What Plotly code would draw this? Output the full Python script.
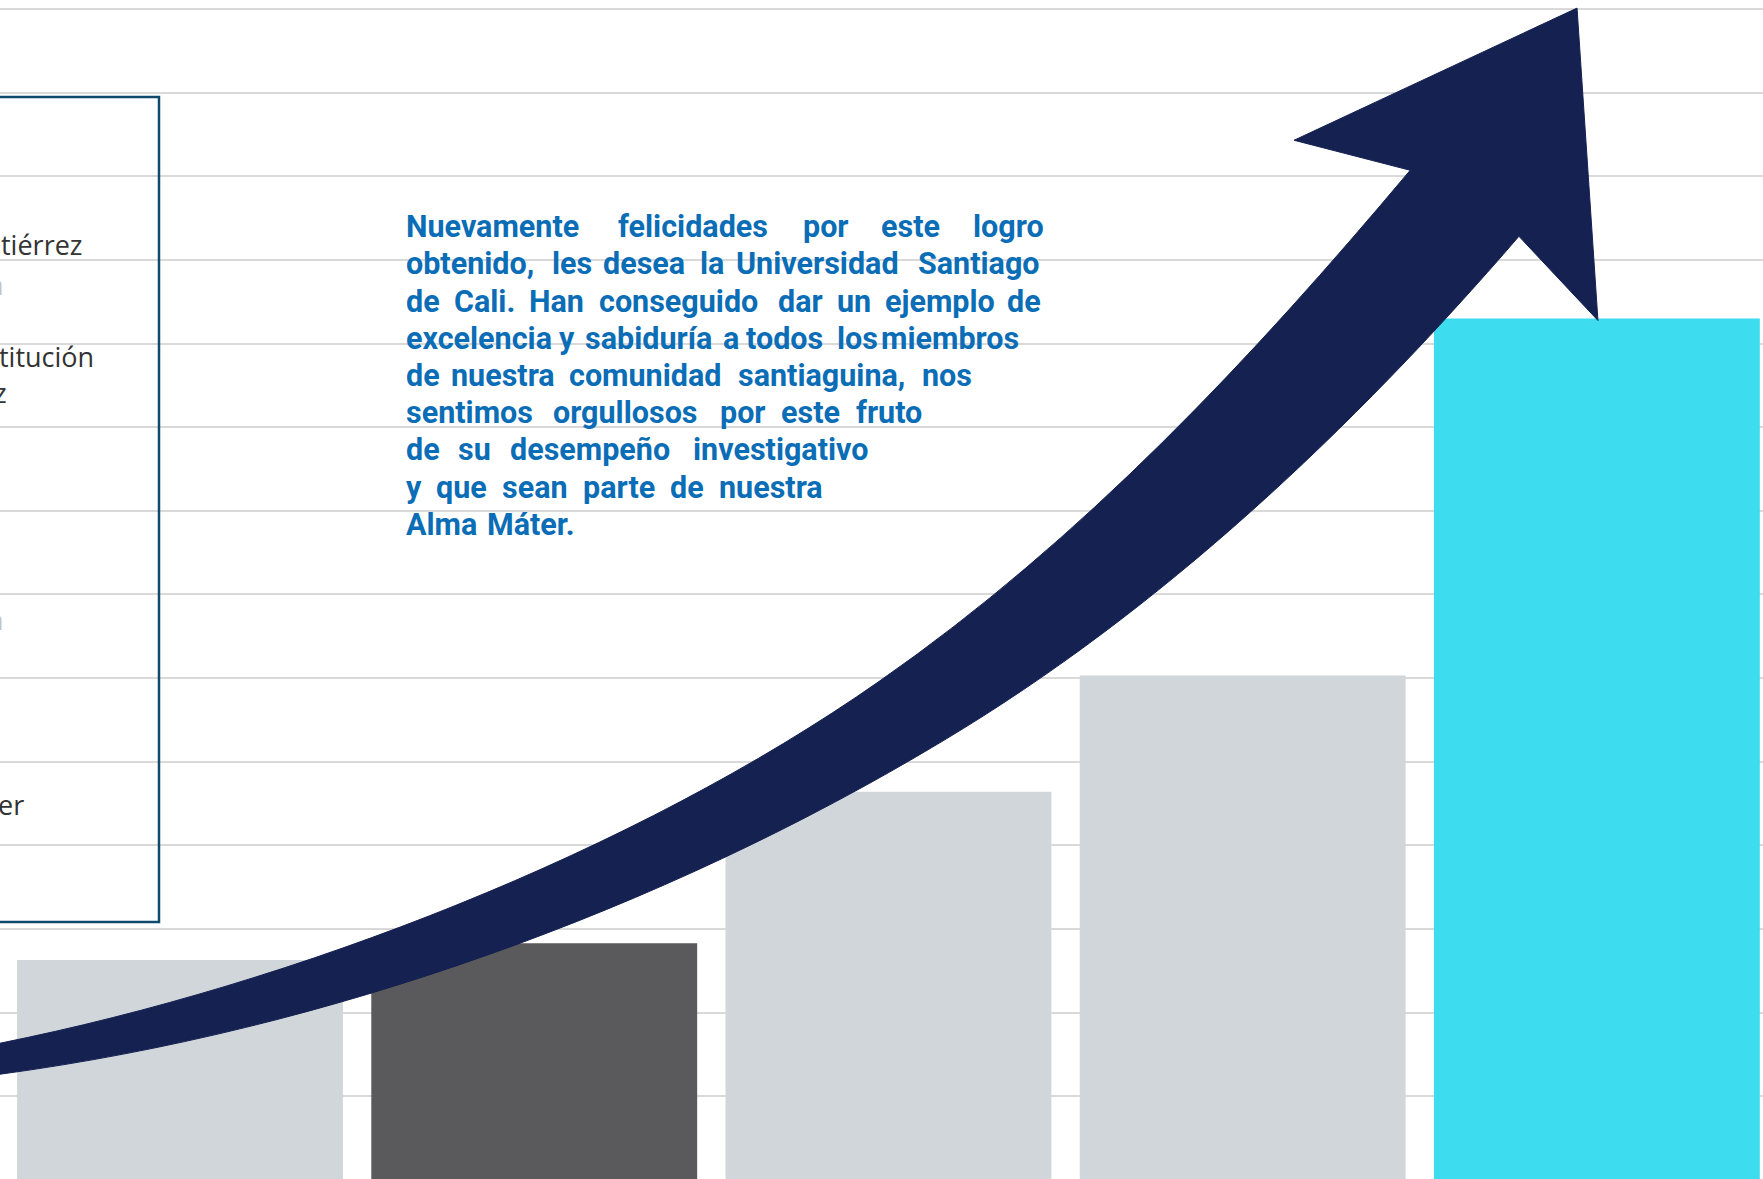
import plotly.graph_objects as go

# ---------------- data ----------------
bar_positions = [0, 1, 2, 3, 4]
bar_values = [2.63, 2.83, 4.64, 6.03, 10.30]
bar_colors = ["#d1d6da", "#5a5a5c", "#d1d6da", "#d1d6da", "#3ddcee"]

# decorative arrow outline, in axis units (x = category index, y = value)
# each entry: (command, [x, y, x, y, ...])
arrow_path = [
    ("M", [-0.593, 1.562]),
    ("L", [-0.508, 1.634]),
    ("C", [0.322, 2.340, 1.282, 3.908, 1.976, 5.967]),
    ("C", [2.544, 7.643, 3.027, 9.822, 3.473, 12.072]),
    ("L", [3.145, 12.431]),
    ("L", [3.944, 14.011]),
    ("L", [4.003, 10.276]),
    ("L", [3.780, 11.282]),
    ("C", [3.309, 8.972, 2.772, 6.817, 2.154, 5.249]),
    ("C", [1.355, 3.214, 0.415, 1.790, -0.508, 1.263]),
    ("L", [-0.593, 1.203]),
]

text_lines = [
    "Nuevamente felicidades por este logro",
    "obtenido, les desea la Universidad Santiago",
    "de Cali. Han conseguido dar un ejemplo de",
    "excelencia y sabiduría a todos los miembros",
    "de nuestra comunidad santiaguina, nos",
    "sentimos orgullosos por este fruto",
    "de su desempeño investigativo",
    "y que sean parte de nuestra",
    "Alma Máter.",
]
box_texts = ["tiérrez", "n", "titución", "z", "n", "er"]

# ---------------- layout constants ----------------
W, H = 1763, 1179
NAVY = "#142151"
TEXT_BLUE = "#0a6db6"

word_x = [
    [405, 617, 802, 880, 972],
    [405, 551, 602, 699, 735, 917],
    [405, 453, 528, 598, 777, 836, 884, 1006],
    [405, 558, 584, 722, 745, 836, 880],
    [405, 450, 568, 737, 921],
    [405, 552, 719, 780, 855],
    [405, 457, 509, 692],
    [405, 435, 501, 582, 669, 718],
    [405, 486],
]
line_base0, line_step = 235, 37.2
FS = 30.5

box_text_right = [84, 5, 95, 8, 5, 25]
box_text_base = [252, 292, 364, 400, 627, 812]
box_text_color = ["#333333", "#c4c4c4", "#333333", "#333333", "#c4c4c4", "#333333"]
BFS = 27

fig = go.Figure()

fig.add_trace(go.Bar(
    x=bar_positions, y=bar_values, marker=dict(color=bar_colors, line=dict(width=0)),
    width=0.92, hoverinfo="skip", showlegend=False))

path = " ".join(
    cmd + " " + " ".join(
        f"{pts[k]},{pts[k + 1]}" for k in range(0, len(pts), 2))
    for cmd, pts in arrow_path) + " Z"

annotations = []
for i, (line, xs) in enumerate(zip(text_lines, word_x)):
    words = line.split(" ")
    base = line_base0 + line_step * i
    yc = base - 0.27 * FS
    for w, px in zip(words, xs):
        annotations.append(dict(
            text=w, x=px / W, y=1 - yc / H, xref="paper", yref="paper",
            xanchor="left", yanchor="middle", showarrow=False, borderpad=0,
            font=dict(family="Roboto", size=FS, color=TEXT_BLUE, weight="bold")))

for t, rx, b, c in zip(box_texts, box_text_right, box_text_base, box_text_color):
    yc = b - 0.27 * BFS
    annotations.append(dict(
        text=t, x=rx / W, y=1 - yc / H, xref="paper", yref="paper",
        xanchor="right", yanchor="middle", showarrow=False, borderpad=0,
        font=dict(family="Open Sans", size=BFS, color=c)))

fig.update_layout(
    width=W, height=H, margin=dict(l=0, r=0, t=0, b=0, pad=0),
    paper_bgcolor="white", plot_bgcolor="white",
    xaxis=dict(range=[-0.5082, 4.4690], visible=False, fixedrange=True),
    yaxis=dict(range=[0.01, 14.108], showgrid=True, gridcolor="#d9d9d9", gridwidth=2,
               dtick=1, tick0=0, showticklabels=False, zeroline=False, ticks="",
               showline=False, fixedrange=True),
    annotations=annotations,
    shapes=[
        dict(type="path", xref="x", yref="y", path=path, fillcolor=NAVY,
             line=dict(color=NAVY, width=1), layer="above"),
        dict(type="rect", xref="paper", yref="paper",
             x0=-0.01, x1=159 / W, y0=1 - 922 / H, y1=1 - 97 / H,
             line=dict(color="#0e4a6e", width=2.5), fillcolor="rgba(0,0,0,0)",
             layer="above"),
    ],
    showlegend=False,
)

fig.write_html("out.html", config={"displayModeBar": False},
               post_script="document.body.style.margin='0px';")
